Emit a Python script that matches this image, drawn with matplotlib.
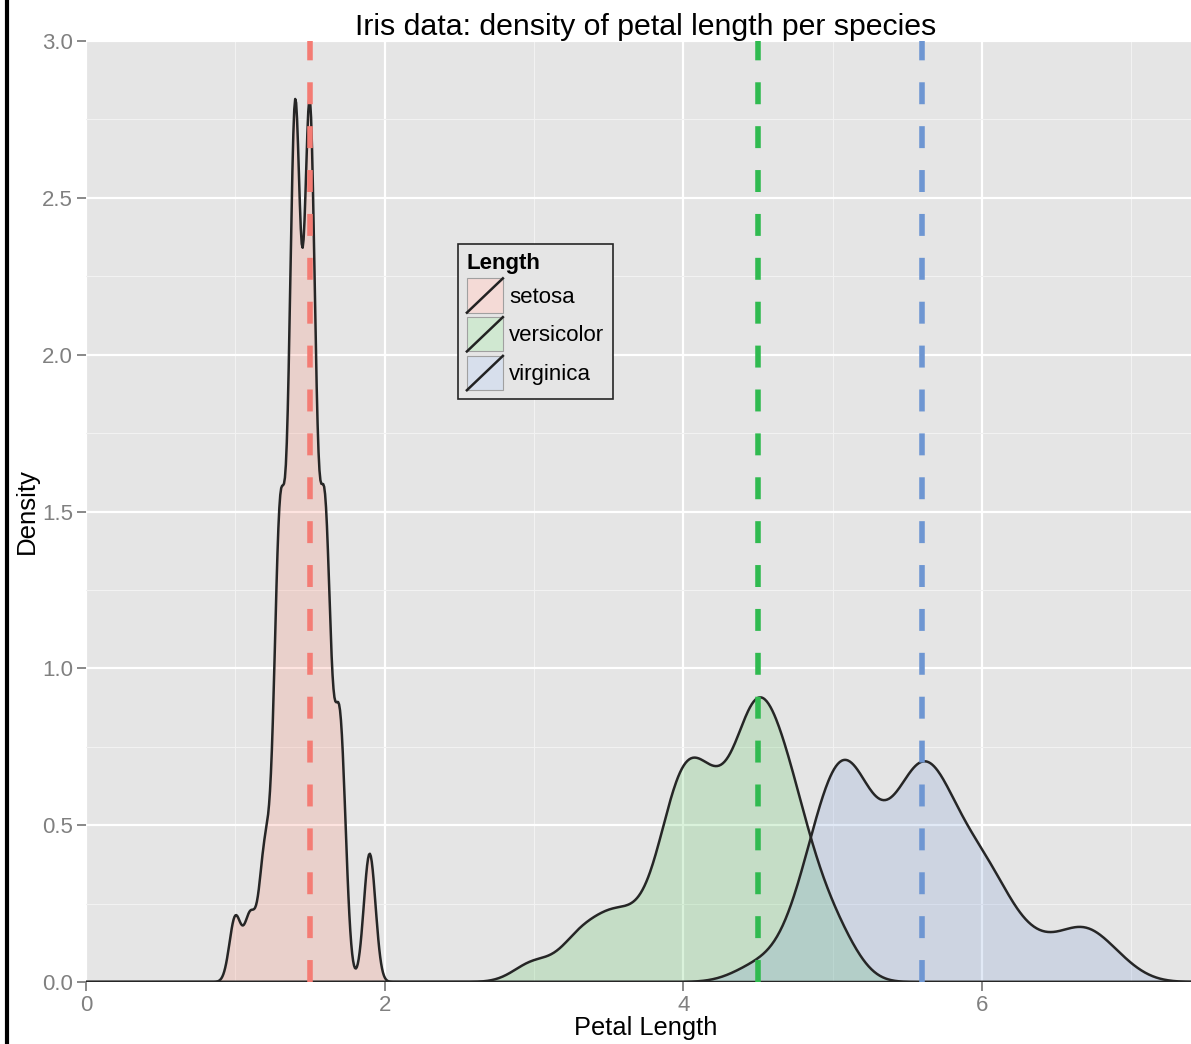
import numpy as np
import matplotlib
matplotlib.use("Agg")
import matplotlib.pyplot as plt
from matplotlib.patches import Rectangle, Patch
from matplotlib.lines import Line2D
from matplotlib.legend_handler import HandlerBase
from matplotlib.colors import to_rgb

plt.rcParams["font.family"] = ["Liberation Sans", "DejaVu Sans"]

# Iris petal lengths (cm) per species
species = ["setosa", "versicolor", "virginica"]
setosa = [1.4, 1.4, 1.3, 1.5, 1.4, 1.7, 1.4, 1.5, 1.4, 1.5, 1.5, 1.6, 1.4, 1.1, 1.2,
          1.5, 1.3, 1.4, 1.7, 1.5, 1.7, 1.5, 1.0, 1.7, 1.9, 1.6, 1.6, 1.5, 1.4, 1.6,
          1.6, 1.5, 1.5, 1.4, 1.5, 1.2, 1.3, 1.4, 1.3, 1.5, 1.3, 1.3, 1.3, 1.6, 1.9,
          1.4, 1.6, 1.4, 1.5, 1.4]
versicolor = [4.7, 4.5, 4.9, 4.0, 4.6, 4.5, 4.7, 3.3, 4.6, 3.9, 3.5, 4.2, 4.0, 4.7, 3.6,
              4.4, 4.5, 4.1, 4.5, 3.9, 4.8, 4.0, 4.9, 4.7, 4.3, 4.4, 4.8, 5.0, 4.5, 3.5,
              3.8, 3.7, 3.9, 5.1, 4.5, 4.5, 4.7, 4.4, 4.1, 4.0, 4.4, 4.6, 4.0, 3.3, 4.2,
              4.2, 4.2, 4.3, 3.0, 4.1]
virginica = [6.0, 5.1, 5.9, 5.6, 5.8, 6.6, 4.5, 6.3, 5.8, 6.1, 5.1, 5.3, 5.5, 5.0, 5.1,
             5.3, 5.5, 6.7, 6.9, 5.0, 5.7, 4.9, 6.7, 4.9, 5.7, 6.0, 4.8, 4.9, 5.6, 5.8,
             6.1, 6.4, 5.6, 5.1, 5.6, 6.1, 5.6, 5.5, 4.8, 5.4, 5.6, 5.1, 5.1, 5.9, 5.7,
             5.2, 5.0, 5.2, 5.4, 5.1]
# Reference lengths marked with dashed lines
ref_lengths = [1.5, 4.5, 5.6]
# Kernel bandwidths per species
bandwidths = [0.039, 0.132, 0.163]

fill_colors = ["#FA7C64", "#46C04C", "#6D92D4"]
line_colors = ["#F47C74", "#30BA50", "#6E96D2"]
fill_alpha = 0.2
x_max = 7.5

PANEL = "#E5E5E5"
KEY_BG = "#F2F2F2"


def gaussian_kde(samples, bw, grid):
    s = np.asarray(samples)[:, None]
    z = (grid[None, :] - s) / bw
    return np.exp(-0.5 * z ** 2).sum(axis=0) / (len(samples) * bw * np.sqrt(2 * np.pi))


def over(col, bg, a):
    c, b = np.array(to_rgb(col)), np.array(to_rgb(bg))
    return tuple(a * c + (1 - a) * b)


class SlashKeyHandler(HandlerBase):
    def create_artists(self, legend, orig_handle, xdescent, ydescent,
                       width, height, fontsize, trans):
        x0, y0 = -xdescent, -ydescent
        rect = Rectangle((x0, y0), width, height,
                         facecolor=orig_handle.get_facecolor(),
                         edgecolor="#A0A0A0", linewidth=0.8, transform=trans)
        slash = Line2D([x0, x0 + width], [y0, y0 + height],
                       color="#222222", linewidth=1.8, transform=trans)
        return [rect, slash]


W, H = 1191, 1044
px_per_unit = 149.3
fig = plt.figure(figsize=(W / 100, H / 100), dpi=100)
ax = fig.add_axes([86 / W, (H - 982) / H, x_max * px_per_unit / W, (982 - 41) / H])
ax.set_facecolor(PANEL)

grid = np.linspace(0, x_max, 1200)
handles = []
for name, data, bw, col in zip(species, [setosa, versicolor, virginica], bandwidths, fill_colors):
    dens = gaussian_kde(data, bw, grid)
    ax.fill_between(grid, 0, dens, facecolor=col, alpha=fill_alpha, linewidth=0, zorder=2)
    ax.plot(grid, dens, color="#262626", linewidth=1.8, zorder=3, solid_joinstyle="round")
    handles.append(Patch(facecolor=over(col, KEY_BG, fill_alpha), label=name))

lw_dash = 4.0
for x, col in zip(ref_lengths, line_colors):
    ax.axvline(x, color=col, linewidth=lw_dash, linestyle=(0, (3.95, 3.95)),
               zorder=4, dash_capstyle="butt")

ax.set_xlim(0, x_max)
ax.set_ylim(0, 3.0)
ax.set_xticks([0, 2, 4, 6])
ax.set_xticks([1, 3, 5, 7], minor=True)
ax.set_yticks([0.0, 0.5, 1.0, 1.5, 2.0, 2.5, 3.0])
ax.set_yticks([0.25, 0.75, 1.25, 1.75, 2.25, 2.75], minor=True)
ax.set_yticklabels(["0.0", "0.5", "1.0", "1.5", "2.0", "2.5", "3.0"])
ax.grid(which="major", color="white", linewidth=1.6, zorder=0)
ax.grid(which="minor", color="#F2F2F2", linewidth=0.8, zorder=0)
ax.set_axisbelow(True)
for sp in ax.spines.values():
    sp.set_visible(False)
ax.tick_params(which="major", direction="out", length=6.5, width=1.3, color="#808080",
               labelcolor="#808080", labelsize=16, pad=3)
ax.tick_params(which="minor", length=0)

ax.set_xlabel("Petal Length", fontsize=18.3)
ax.xaxis.set_label_coords(0.5, -0.036)
ax.set_ylabel("Density", fontsize=18.5)
ax.yaxis.set_label_coords(-47 / (x_max * px_per_unit), 0.5)
ax.set_title("Iris data: density of petal length per species", fontsize=21.8, pad=4)

leg = ax.legend(handles=handles, title="Length", loc="upper left",
                bbox_to_anchor=((458 - 86) / (x_max * px_per_unit), (982 - 244) / (982 - 41)),
                handler_map={Patch: SlashKeyHandler()}, fontsize=16,
                title_fontproperties={"weight": "bold", "size": 16},
                handlelength=1.62, handleheight=2.0, handletextpad=0.27,
                labelspacing=0.2, borderpad=0.4, borderaxespad=0,
                fancybox=False, framealpha=1, facecolor=PANEL, edgecolor="#262626")
leg.get_frame().set_linewidth(1.2)
leg._legend_box.align = "left"
leg.set_zorder(6)

# left border rule
fig.add_artist(Line2D([7 / W, 7 / W], [0, 1], color="black", linewidth=3.0,
                      transform=fig.transFigure))

fig.savefig("out.png", dpi=100)
